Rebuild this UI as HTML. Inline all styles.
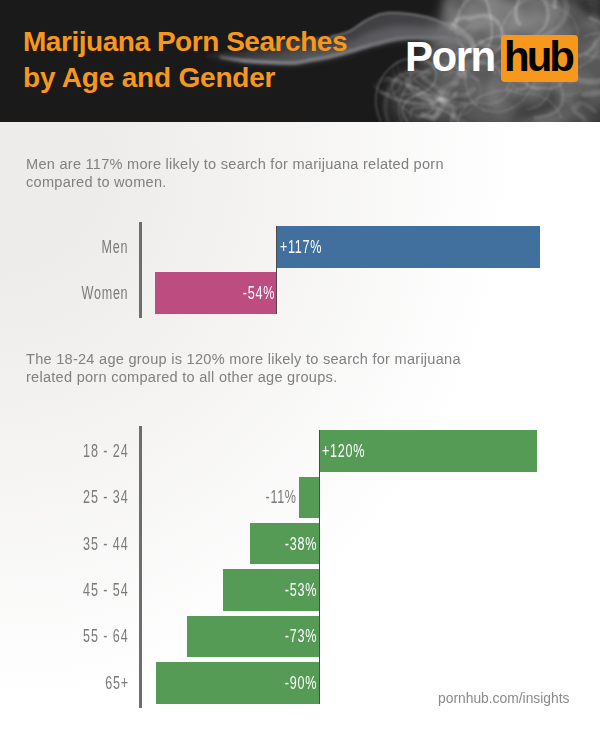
<!DOCTYPE html>
<html><head><meta charset="utf-8">
<style>
html,body{margin:0;padding:0;}
body{width:600px;height:742px;position:relative;overflow:hidden;background:#fff;font-family:"Liberation Sans",sans-serif;}
#bg{position:absolute;left:0;top:0;width:600px;height:742px;background:radial-gradient(ellipse 515px 545px at 0px 160px,#edeceb 0%,#edeceb 20%,#f5f4f3 56%,#ffffff 100%);}
#hdr{position:absolute;left:0;top:0;width:600px;height:121.5px;background:#1b1a1a;overflow:hidden;}
.title{position:absolute;left:23px;color:#f7981d;font-weight:bold;font-size:28px;white-space:nowrap;line-height:30px;transform-origin:0 0;}
.para{position:absolute;left:26px;color:#808080;font-size:14px;line-height:18px;white-space:nowrap;transform-origin:0 0;letter-spacing:0.25px;transform:scaleX(1.04);}
.axis{position:absolute;left:139px;width:2.5px;background:#6e6e6e;}
.zero{position:absolute;width:1px;background:#4a4a4a;}
.bar{position:absolute;height:41.4px;}
.lbl{position:absolute;letter-spacing:1px;font-size:17.6px;color:#7a7a7a;white-space:nowrap;line-height:20px;}
.lbl.r{transform-origin:100% 50%;transform:scaleX(0.715);text-align:right;}
.lbl.l{transform-origin:0 50%;transform:scaleX(0.715);}
.w{color:#fff;}
</style></head><body>
<div id="bg"></div>
<div id="hdr">
<svg id="smoke" width="600" height="122" viewBox="0 0 600 122" style="position:absolute;left:0;top:0;">
<defs>
<filter id="b1" x="-20%" y="-20%" width="140%" height="140%"><feGaussianBlur stdDeviation="0.8"/></filter>
<filter id="b2" x="-20%" y="-20%" width="140%" height="140%"><feGaussianBlur stdDeviation="1.6"/></filter>
<filter id="b3" x="-20%" y="-40%" width="140%" height="180%"><feGaussianBlur stdDeviation="3"/></filter>
<filter id="b6" x="-20%" y="-20%" width="140%" height="140%"><feGaussianBlur stdDeviation="6"/></filter>
<filter id="b9" x="-30%" y="-30%" width="160%" height="160%"><feGaussianBlur stdDeviation="8"/></filter>
<filter id="wf" filterUnits="userSpaceOnUse" x="340" y="-30" width="300" height="190"><feTurbulence type="fractalNoise" baseFrequency="0.009 0.012" numOctaves="1" seed="3" result="t"/><feDisplacementMap in="SourceGraphic" in2="t" scale="40" xChannelSelector="R" yChannelSelector="G"/><feGaussianBlur stdDeviation="0.8"/></filter>
<filter id="wf3" filterUnits="userSpaceOnUse" x="340" y="-30" width="300" height="190"><feTurbulence type="fractalNoise" baseFrequency="0.01 0.014" numOctaves="1" seed="5" result="t"/><feDisplacementMap in="SourceGraphic" in2="t" scale="36" xChannelSelector="R" yChannelSelector="G"/><feGaussianBlur stdDeviation="1.2"/></filter>
<filter id="wf2" filterUnits="userSpaceOnUse" x="340" y="-30" width="300" height="190"><feTurbulence type="fractalNoise" baseFrequency="0.012 0.016" numOctaves="1" seed="8" result="t"/><feDisplacementMap in="SourceGraphic" in2="t" scale="30" xChannelSelector="R" yChannelSelector="G"/><feGaussianBlur stdDeviation="3"/></filter>
<mask id="mk" maskUnits="userSpaceOnUse" x="0" y="0" width="600" height="122"><path d="M380,130 C372,100 376,80 394,66 C402,58 422,60 432,50 L446,30 L436,-10 L610,-10 L610,130 Z" fill="#fff" filter="url(#b6)"/></mask>
<linearGradient id="sw" gradientUnits="userSpaceOnUse" x1="203" y1="0" x2="470" y2="0"><stop offset="0" stop-color="#5a5b5f" stop-opacity="0.2"/><stop offset="0.2" stop-color="#5a5b5f" stop-opacity="0.8"/><stop offset="0.4" stop-color="#5f6064" stop-opacity="1"/><stop offset="1" stop-color="#727276" stop-opacity="1"/></linearGradient>
<linearGradient id="hlg" gradientUnits="userSpaceOnUse" x1="203" y1="0" x2="470" y2="0"><stop offset="0" stop-color="#8c8d91" stop-opacity="0.3"/><stop offset="0.15" stop-color="#9a9b9f" stop-opacity="0.9"/><stop offset="0.6" stop-color="#8c8d91" stop-opacity="0.8"/><stop offset="1" stop-color="#8c8d91" stop-opacity="0.3"/></linearGradient>
</defs>
<!-- cloud base -->
<g filter="url(#b9)">
<ellipse cx="522" cy="64" rx="100" ry="76" fill="#545454"/>
<ellipse cx="485" cy="18" rx="42" ry="20" fill="#6c6c6c"/>
<ellipse cx="530" cy="22" rx="30" ry="20" fill="#666"/>
<ellipse cx="590" cy="8" rx="22" ry="16" fill="#2c2c2c"/>
<ellipse cx="460" cy="104" rx="55" ry="18" fill="#5a5a5a"/>
<ellipse cx="555" cy="110" rx="52" ry="14" fill="#3c3c3c"/>
<ellipse cx="470" cy="62" rx="38" ry="20" fill="#5c5c5c"/>
<ellipse cx="592" cy="60" rx="14" ry="30" fill="#585858"/>
<ellipse cx="418" cy="98" rx="30" ry="30" fill="#414141"/>
<ellipse cx="440" cy="100" rx="30" ry="22" fill="#4c4c4c"/>
</g>
<g fill="none" stroke="#fff" stroke-linecap="round" filter="url(#wf2)" mask="url(#mk)">
<path d="M604,112 Q602,121 590,120 Q579,118 577,107 Q563,103 570,98 Q571,92 580,95" stroke-width="7" stroke-opacity="0.08"/>
<path d="M517,69 Q549,69 561,90 Q575,104 559,121 Q530,148 478,140 Q420,126 434,88" stroke-width="16" stroke-opacity="0.07"/>
<path d="M522,65 Q538,63 537,75 Q550,78 544,87 Q544,95 529,92 Q521,95 511,88" stroke-width="12" stroke-opacity="0.06"/>
<path d="M546,49 Q532,34 547,18 Q559,4 577,15 Q594,16 594,30 Q604,51 577,58" stroke-width="12" stroke-opacity="0.08"/>
<path d="M469,23 Q456,23 451,16 Q438,7 450,-3 Q451,-17 468,-12 Q472,-15 482,-8" stroke-width="16" stroke-opacity="0.08"/>
<path d="M507,112 Q485,100 495,81 Q509,65 537,69 Q575,77 572,100 Q569,128 531,132" stroke-width="20" stroke-opacity="0.06"/>
<path d="M483,-3 Q503,12 475,25 Q471,45 446,40 Q415,37 410,16 Q407,-0 420,-12" stroke-width="7" stroke-opacity="0.07"/>
<path d="M594,18 Q583,24 576,15 Q569,14 575,6 Q571,-7 583,-7 Q593,-5 596,1" stroke-width="12" stroke-opacity="0.07"/>
<path d="M527,30 Q505,17 530,3 Q547,-11 578,-11 Q620,-9 626,18 Q631,48 593,46" stroke-width="16" stroke-opacity="0.05"/>
<path d="M446,28 Q448,3 482,-9 Q510,-20 534,-3 Q566,31 542,72 Q492,106 440,72" stroke-width="20" stroke-opacity="0.07"/>
<path d="M529,18 Q511,23 498,13 Q483,-3 496,-13 Q511,-20 529,-16 Q552,-10 549,5" stroke-width="16" stroke-opacity="0.07"/>
<path d="M539,101 Q533,88 549,80 Q560,71 572,75 Q600,87 600,104 Q582,127 549,127" stroke-width="20" stroke-opacity="0.07"/>
<path d="M461,50 Q430,35 443,10 Q466,-14 497,1 Q515,3 514,21 Q502,42 470,43" stroke-width="9" stroke-opacity="0.09"/>
<path d="M522,76 Q545,85 530,101 Q517,108 499,105 Q489,104 488,91 Q481,84 492,76" stroke-width="9" stroke-opacity="0.06"/>
<path d="M514,12 Q516,-6 541,-12 Q574,-18 590,1 Q602,21 567,27 Q552,45 529,36" stroke-width="7" stroke-opacity="0.07"/>
<path d="M449,2 Q458,-11 478,-5 Q503,-5 498,7 Q509,14 493,17 Q483,21 474,16" stroke-width="20" stroke-opacity="0.05"/>
<path d="M563,22 Q538,6 558,-13 Q569,-30 598,-21 Q624,-7 623,18 Q599,46 556,47" stroke-width="7" stroke-opacity="0.05"/>
<path d="M532,21 Q518,35 497,25 Q463,15 476,-3 Q488,-14 507,-11 Q522,-17 529,-8" stroke-width="16" stroke-opacity="0.08"/>
</g>
<g fill="none" stroke="#fff" stroke-linecap="round" filter="url(#wf3)" mask="url(#mk)">
<path d="M495,50 Q463,47 454,25 Q455,3 478,-6 Q494,-23 516,-9" stroke-width="2.5" stroke-opacity="0.19"/>
<path d="M525,-11 Q542,-10 549,1 Q556,18 546,27 Q536,38 511,35" stroke-width="3" stroke-opacity="0.18"/>
<path d="M608,30 Q627,45 617,64 Q605,82 581,80 Q549,80 552,53" stroke-width="4" stroke-opacity="0.16"/>
<path d="M591,16 Q616,25 596,43 Q590,62 563,62 Q536,69 525,60" stroke-width="3" stroke-opacity="0.16"/>
<path d="M586,90 Q605,82 624,89 Q650,106 633,125 Q622,147 597,136" stroke-width="4" stroke-opacity="0.14"/>
<path d="M506,132 Q470,137 444,116 Q426,98 450,82 Q458,63 485,56" stroke-width="6" stroke-opacity="0.11"/>
<path d="M404,28 Q397,1 431,-14 Q464,-27 480,-3 Q511,27 482,47" stroke-width="2.5" stroke-opacity="0.21"/>
<path d="M458,106 Q449,110 441,106 Q425,98 435,90 Q443,78 453,80" stroke-width="5" stroke-opacity="0.10"/>
<path d="M505,95 Q513,75 543,77 Q563,75 568,93 Q567,117 539,123" stroke-width="3" stroke-opacity="0.13"/>
<path d="M601,122 Q585,123 583,111 Q571,108 579,101 Q584,93 593,103" stroke-width="4" stroke-opacity="0.11"/>
<path d="M504,73 Q519,65 528,79 Q535,79 530,90 Q532,96 517,95" stroke-width="2.5" stroke-opacity="0.17"/>
<path d="M468,90 Q462,98 450,95 Q435,92 432,84 Q417,72 429,67" stroke-width="6" stroke-opacity="0.12"/>
<path d="M531,-26 Q563,-19 568,6 Q568,33 529,36 Q508,48 482,34" stroke-width="5" stroke-opacity="0.12"/>
<path d="M462,74 Q451,65 467,58 Q465,52 480,58 Q502,64 500,75" stroke-width="4" stroke-opacity="0.14"/>
<path d="M518,84 Q501,66 521,51 Q552,42 566,62 Q580,72 570,81" stroke-width="5" stroke-opacity="0.10"/>
<path d="M449,29 Q451,16 469,16 Q494,7 504,18 Q518,36 497,46" stroke-width="3" stroke-opacity="0.20"/>
<path d="M494,73 Q489,61 508,57 Q519,49 532,60 Q556,70 542,80" stroke-width="3" stroke-opacity="0.15"/>
<path d="M526,17 Q514,7 523,-5 Q526,-13 544,-13 Q556,-13 556,2" stroke-width="3" stroke-opacity="0.22"/>
<path d="M555,64 Q564,56 575,63 Q575,64 575,71 Q583,76 575,81" stroke-width="6" stroke-opacity="0.20"/>
<path d="M434,37 Q431,27 445,25 Q454,24 463,28 Q478,33 474,41" stroke-width="6" stroke-opacity="0.22"/>
<path d="M434,100 Q450,106 443,119 Q441,137 422,138 Q403,147 401,133" stroke-width="5" stroke-opacity="0.14"/>
<path d="M450,91 Q448,100 434,99 Q423,103 414,97 Q400,89 406,78" stroke-width="4" stroke-opacity="0.17"/>
<path d="M414,94 Q427,93 435,101 Q434,112 425,118 Q429,121 415,117" stroke-width="5" stroke-opacity="0.16"/>
<path d="M435,91 Q436,100 426,104 Q397,111 376,98 Q360,81 369,65" stroke-width="4" stroke-opacity="0.17"/>
<path d="M372,92 Q378,79 396,84 Q422,89 423,101 Q434,115 423,119" stroke-width="5" stroke-opacity="0.12"/>
<path d="M397,98 Q405,94 413,99 Q424,100 424,108 Q424,114 410,120" stroke-width="3" stroke-opacity="0.11"/>
<path d="M396,82 Q386,68 404,58 Q407,48 422,58 Q445,54 450,65" stroke-width="2.5" stroke-opacity="0.10"/>
</g>
<g fill="none" stroke="#fff" stroke-linecap="round" filter="url(#wf)" mask="url(#mk)">
<path d="M462,75 Q452,53 479,42 Q502,27 533,40 Q553,47 553,67" stroke-width="1.8" stroke-opacity="0.22"/>
<path d="M563,77 Q563,89 544,87 Q530,88 524,82 Q511,82 514,73" stroke-width="1.8" stroke-opacity="0.18"/>
<path d="M534,82 Q525,101 498,102 Q461,100 461,71 Q439,57 465,50" stroke-width="1.2" stroke-opacity="0.16"/>
<path d="M582,37 Q595,29 608,38 Q613,44 605,56 Q593,61 581,55" stroke-width="1.4" stroke-opacity="0.15"/>
<path d="M444,76 Q452,69 463,74 Q477,76 478,91 Q474,107 458,107" stroke-width="1.2" stroke-opacity="0.11"/>
<path d="M435,45 Q447,36 461,43 Q465,45 455,53 Q452,60 444,61" stroke-width="1.8" stroke-opacity="0.12"/>
<path d="M452,139 Q428,144 414,130 Q401,101 427,75 Q449,55 473,78" stroke-width="1.8" stroke-opacity="0.13"/>
<path d="M581,90 Q561,97 553,81 Q537,72 549,62 Q552,60 563,68" stroke-width="1.2" stroke-opacity="0.11"/>
<path d="M511,82 Q504,99 478,95 Q443,101 421,84 Q403,65 436,49" stroke-width="1.2" stroke-opacity="0.16"/>
<path d="M593,53 Q580,75 546,75 Q512,74 501,45 Q505,9 548,-10" stroke-width="1.2" stroke-opacity="0.20"/>
<path d="M500,66 Q510,52 530,61 Q552,71 553,85 Q549,101 529,102" stroke-width="1.2" stroke-opacity="0.14"/>
<path d="M474,23 Q449,42 415,31 Q384,27 402,5 Q408,-17 440,-16" stroke-width="1.4" stroke-opacity="0.14"/>
<path d="M552,4 Q577,12 577,32 Q572,51 545,45 Q520,52 507,36" stroke-width="1.4" stroke-opacity="0.11"/>
<path d="M477,132 Q455,118 468,98 Q487,80 520,90 Q558,90 563,112" stroke-width="1.2" stroke-opacity="0.18"/>
<path d="M421,117 Q418,109 430,106 Q445,102 451,106 Q464,108 463,116" stroke-width="1.4" stroke-opacity="0.18"/>
<path d="M439,112 Q417,119 407,103 Q398,91 404,81 Q415,73 432,75" stroke-width="1.4" stroke-opacity="0.15"/>
<path d="M374,89 Q385,75 404,84 Q412,81 409,91 Q408,100 390,98" stroke-width="1.4" stroke-opacity="0.15"/>
<path d="M425,91 Q415,91 417,84 Q414,79 421,74 Q416,72 425,76" stroke-width="1.4" stroke-opacity="0.18"/>
<path d="M417,84 Q405,79 404,71 Q398,55 420,49 Q441,48 438,68" stroke-width="1.4" stroke-opacity="0.11"/>
</g>
<!-- bulb outline -->
<path d="M381,122 C372,104 374,82 390,68 C398,60 412,56 424,60 C436,64 440,76 432,86 C424,96 410,94 404,104 C400,112 404,118 408,122" fill="none" stroke="#fff" stroke-opacity="0.22" stroke-width="1.6" filter="url(#b1)"/>
<path d="M388,122 C382,106 386,88 398,78 C408,70 420,72 424,80" fill="none" stroke="#fff" stroke-opacity="0.12" stroke-width="4" filter="url(#b2)"/>
<!-- swoosh -->
<path d="M203.0,56.5 C205.8,55.8 213.0,53.6 220.0,52.5 C227.0,51.4 236.7,51.2 245.0,50.0 C253.3,48.8 262.5,46.8 270.0,45.0 C277.5,43.2 283.3,40.2 290.0,39.0 C296.7,37.8 303.3,38.5 310.0,38.0 C316.7,37.5 323.3,37.3 330.0,36.0 C336.7,34.7 344.2,32.7 350.0,30.0 C355.8,27.3 359.8,22.8 365.0,20.0 C370.2,17.2 375.2,14.3 381.0,13.0 C386.8,11.7 392.3,11.5 400.0,12.0 C407.7,12.5 419.5,14.2 427.0,16.0 C434.5,17.8 439.2,20.0 445.0,23.0 C450.8,26.0 459.2,32.2 462.0,34.0 L470.0,44.0 C465.8,43.3 452.2,40.8 445.0,40.0 C437.8,39.2 434.5,39.5 427.0,39.5 C419.5,39.5 409.5,38.8 400.0,40.0 C390.5,41.2 378.3,44.8 370.0,47.0 C361.7,49.2 356.7,51.1 350.0,53.0 C343.3,54.9 336.7,56.8 330.0,58.3 C323.3,59.8 315.8,60.7 310.0,61.7 C304.2,62.7 301.7,64.1 295.0,64.5 C288.3,64.9 278.3,64.3 270.0,64.0 C261.7,63.7 253.3,63.3 245.0,62.5 C236.7,61.7 227.0,59.9 220.0,59.0 C213.0,58.1 205.8,57.3 203.0,57.0 Z" fill="url(#sw)" filter="url(#b2)" opacity="0.5"/>
<path d="M203.0,56.8 C205.8,56.6 213.0,55.8 220.0,55.8 C227.0,55.7 236.7,56.5 245.0,56.2 C253.3,56.0 262.5,55.3 270.0,54.5 C277.5,53.7 283.3,52.5 290.0,51.7 C296.7,50.9 303.3,50.6 310.0,49.9 C316.7,49.1 323.3,48.5 330.0,47.1 C336.7,45.8 344.2,43.6 350.0,41.5 C355.8,39.4 359.8,36.4 365.0,34.2 C370.2,32.1 375.2,30.1 381.0,28.7 C386.8,27.3 392.3,26.2 400.0,26.0 C407.7,25.8 419.5,26.8 427.0,27.8 C434.5,28.7 442.0,30.9 445.0,31.5 L470.0,44.0 C465.8,43.3 452.2,40.8 445.0,40.0 C437.8,39.2 434.5,39.5 427.0,39.5 C419.5,39.5 409.5,38.8 400.0,40.0 C390.5,41.2 378.3,44.8 370.0,47.0 C361.7,49.2 356.7,51.1 350.0,53.0 C343.3,54.9 336.7,56.8 330.0,58.3 C323.3,59.8 315.8,60.7 310.0,61.7 C304.2,62.7 301.7,64.1 295.0,64.5 C288.3,64.9 278.3,64.3 270.0,64.0 C261.7,63.7 253.3,63.3 245.0,62.5 C236.7,61.7 227.0,59.9 220.0,59.0 C213.0,58.1 205.8,57.3 203.0,57.0 Z" fill="url(#sw)" filter="url(#b3)" opacity="0.7"/>
<path d="M220,57.2 C224.2,57.8 236.7,59.9 245.0,60.7 C253.3,61.5 261.7,61.9 270.0,62.2 C278.3,62.5 288.3,63.1 295.0,62.7 C301.7,62.3 304.2,60.9 310.0,59.9 C315.8,58.9 323.3,58.0 330.0,56.5 C336.7,55.0 343.3,53.1 350.0,51.2 C356.7,49.3 361.7,47.4 370.0,45.2 C378.3,43.0 390.5,39.5 400.0,38.2 C409.5,37.0 419.5,37.7 427.0,37.7 C434.5,37.7 437.8,37.5 445.0,38.2 C452.2,39.0 465.8,41.5 470.0,42.2" fill="none" stroke="url(#hlg)" stroke-width="3" filter="url(#b2)"/>
<path d="M330,37.2 C333.3,36.2 344.2,33.9 350.0,31.2 C355.8,28.5 359.8,24.0 365.0,21.2 C370.2,18.4 375.2,15.5 381.0,14.2 C386.8,12.9 392.3,12.7 400.0,13.2 C407.7,13.7 419.5,15.4 427.0,17.2 C434.5,19.0 439.2,21.2 445.0,24.2 C450.8,27.2 459.2,33.4 462.0,35.2" fill="none" stroke="#909094" stroke-width="1.6" filter="url(#b1)" opacity="0.7"/>
</svg>
<div class="title" style="top:27.3px;letter-spacing:-0.46px;">Marijuana Porn Searches</div>
<div class="title" style="top:62.5px;letter-spacing:-0.2px;">by Age and Gender</div>
<div id="porn" style="position:absolute;left:405px;top:32.7px;color:#fff;font-weight:bold;font-size:42px;line-height:48px;letter-spacing:-1.5px;">Porn</div>
<div id="hubbox" style="position:absolute;left:501px;top:35px;width:77px;height:47px;border-radius:4px;background:#f7981d;"></div>
<div id="hub" style="position:absolute;left:504px;top:32.7px;color:#000;font-weight:bold;font-size:42px;line-height:48px;letter-spacing:-3px;">hub</div>
</div>

<div class="para" id="p1" style="top:154.7px;">Men are 117% more likely to search for marijuana related porn<br>compared to women.</div>
<div class="para" id="p2" style="top:349.6px;">The 18-24 age group is 120% more likely to search for marijuana<br>related porn compared to all other age groups.</div>

<!-- gender chart -->
<div class="axis" style="top:222px;height:95.5px;"></div>
<div class="bar" style="left:276px;top:226.2px;height:41.4px;width:264px;background:#41709e;"></div>
<div class="bar" style="left:155px;top:272.4px;height:41.3px;width:121px;background:#bd4c80;"></div>
<div class="zero" style="left:276px;top:226.3px;height:87.4px;"></div>
<div class="lbl r" style="right:471.3px;top:237.2px;">Men</div>
<div class="lbl r" style="right:471.3px;top:283.3px;">Women</div>
<div class="lbl l w" style="left:280px;top:237.2px;">+117%</div>
<div class="lbl r w" style="right:325.3px;top:283.3px;">-54%</div>

<!-- age chart -->
<div class="axis" style="top:426px;height:281.5px;"></div>
<div class="bar" style="left:319px;top:430.1px;height:41.6px;width:218px;background:#559b55;"></div>
<div class="bar" style="left:299px;top:476.5px;height:41.6px;width:20px;background:#559b55;"></div>
<div class="bar" style="left:250px;top:522.9px;height:41.6px;width:69px;background:#559b55;"></div>
<div class="bar" style="left:223px;top:569.2px;height:41.6px;width:96px;background:#559b55;"></div>
<div class="bar" style="left:187px;top:615.6px;height:41.6px;width:132px;background:#559b55;"></div>
<div class="bar" style="left:156px;top:662.0px;height:41.6px;width:163px;background:#559b55;"></div>
<div class="zero" style="left:319px;top:430px;height:273.5px;"></div>
<div class="lbl r" style="right:471.3px;top:441.2px;letter-spacing:1.25px;">18 - 24</div>
<div class="lbl r" style="right:471.3px;top:487.3px;letter-spacing:1.25px;">25 - 34</div>
<div class="lbl r" style="right:471.3px;top:533.7px;letter-spacing:1.25px;">35 - 44</div>
<div class="lbl r" style="right:471.3px;top:580px;letter-spacing:1.25px;">45 - 54</div>
<div class="lbl r" style="right:471.3px;top:626.4px;letter-spacing:1.25px;">55 - 64</div>
<div class="lbl r" style="right:471.3px;top:672.8px;">65+</div>
<div class="lbl l w" style="left:322px;top:441.2px;">+120%</div>
<div class="lbl r" style="right:302.8px;top:487.3px;">-11%</div>
<div class="lbl r w" style="right:283.2px;top:533.7px;">-38%</div>
<div class="lbl r w" style="right:283.2px;top:580px;">-53%</div>
<div class="lbl r w" style="right:283.2px;top:626.4px;">-73%</div>
<div class="lbl r w" style="right:283.2px;top:672.8px;">-90%</div>

<div class="para" id="foot" style="left:437.5px;top:689.2px;color:#8a8a8a;letter-spacing:0;transform:scaleX(0.988);">pornhub.com/insights</div>
</body></html>
